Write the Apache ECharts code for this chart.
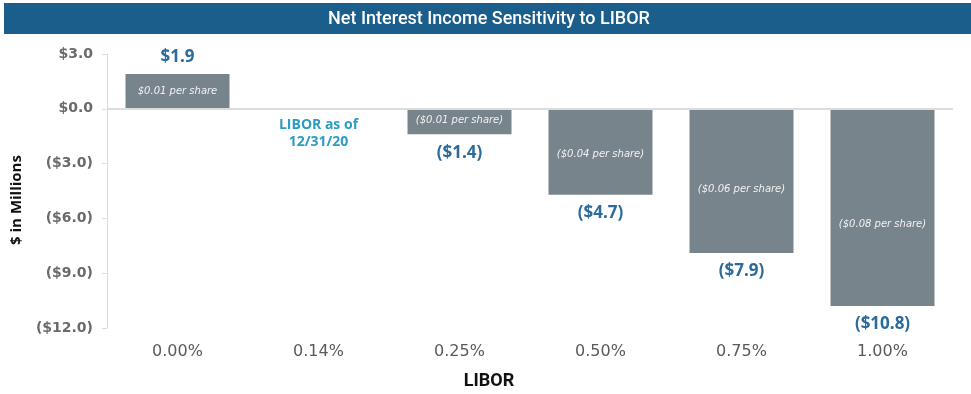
<!DOCTYPE html>
<html>
<head>
<meta charset="utf-8">
<script src="https://cdn.jsdelivr.net/npm/echarts@6/dist/echarts.min.js"></script>
<style>html,body{margin:0;padding:0;background:#fff;}#c{width:971px;height:394px;}</style>
</head>
<body>
<div id="c"></div>
<script>
const categories = ['0.00%', '0.14%', '0.25%', '0.50%', '0.75%', '1.00%'];
const values = [1.9, null, -1.4, -4.7, -7.9, -10.8];
const valueLabels = ['$1.9', '', '($1.4)', '($4.7)', '($7.9)', '($10.8)'];
const perShareLabels = ['$0.01 per share', '', '($0.01 per share)', '($0.04 per share)', '($0.06 per share)', '($0.08 per share)'];
const yTicks = [3, 0, -3, -6, -9, -12];
const annotationText = 'LIBOR as of\n12/31/20';
const titleText = 'Net Interest Income Sensitivity to LIBOR';

// styling/layout (not data)
const perShareOffsets = [18, 0, 13, 47, 82, 117];

function fmtTick(v) {
  if (v === 0) return '$0.0';
  return v > 0 ? '$' + v.toFixed(1) : '($' + Math.abs(v).toFixed(1) + ')';
}

const chart = echarts.init(document.getElementById('c'));

const barData = values.map((v, i) => {
  if (v === null) return '-';
  return {
    value: v,
    label: {
      show: true,
      position: 'insideTop',
      distance: perShareOffsets[i] - 6,
      formatter: perShareLabels[i]
    }
  };
});

const labelData = values.map((v, i) => {
  if (v === null) {
    return {
      value: 0,
      label: {
        show: true, position: 'bottom', distance: 8,
        formatter: annotationText,
        color: '#2d9cc2', fontSize: 14, fontWeight: 'bold', lineHeight: 17,
        fontFamily: 'Open Sans, sans-serif'
      }
    };
  }
  return {
    value: v,
    label: {
      show: true,
      position: v >= 0 ? 'top' : 'bottom',
      distance: v >= 0 ? 8 : 10,
      formatter: valueLabels[i]
    }
  };
});

chart.setOption({
  animation: false,
  backgroundColor: '#ffffff',
  grid: { left: 107, right: 18, top: 54, bottom: 66, containLabel: false },
  xAxis: {
    type: 'category',
    data: categories,
    position: 'bottom',
    axisLine: { show: false, onZero: false },
    axisTick: { show: false },
    axisLabel: { color: '#5a5a5a', fontSize: 16, margin: 16, fontFamily: '"DejaVu Sans", sans-serif' }
  },
  yAxis: {
    type: 'value',
    min: -12, max: 3, interval: 3,
    axisLine: { show: true, lineStyle: { color: '#dcdcdc', width: 1 } },
    axisTick: { show: true, inside: false, length: 5, lineStyle: { color: '#dcdcdc' } },
    splitLine: { show: false },
    axisLabel: {
      color: '#6a6a6a', fontSize: 14, fontWeight: 'bold', margin: 14,
      fontFamily: '"DejaVu Sans", sans-serif',
      formatter: fmtTick
    }
  },
  graphic: [
    { type: 'rect', shape: { x: 4, y: 3, width: 967, height: 31 }, style: { fill: '#1b5e8c' }, z: 10 },
    { type: 'text', x: 489, y: 19, z: 11,
      style: { text: titleText, fill: '#ffffff', font: '500 18px Roboto, sans-serif', align: 'center', verticalAlign: 'middle' } },
    { type: 'text', x: 489, y: 381, z: 11,
      style: { text: 'LIBOR', fill: '#111111', font: 'bold 18px Roboto, sans-serif', align: 'center', verticalAlign: 'middle' } },
    { type: 'text', x: 17, y: 200, rotation: Math.PI / 2, z: 11,
      style: { text: '$ in Millions', fill: '#111111', font: 'bold 15px "Open Sans", sans-serif', align: 'center', verticalAlign: 'middle' } }
  ],
  series: [
    {
      type: 'bar',
      data: barData,
      barWidth: 104,
      barGap: '-100%',
      itemStyle: { color: '#78848b' },
      label: { color: '#f2f2f2', fontSize: 10, fontStyle: 'italic', fontFamily: '"DejaVu Sans", sans-serif' },
      markLine: {
        silent: true, symbol: 'none',
        label: { show: false },
        lineStyle: { color: '#dcdcdc', width: 2, type: 'solid' },
        data: [{ yAxis: 0 }]
      },
      z: 2
    },
    {
      type: 'bar',
      data: labelData,
      barWidth: 104,
      barGap: '-100%',
      itemStyle: { color: 'rgba(0,0,0,0)' },
      label: { color: '#2a6b9c', fontSize: 17, fontWeight: 'bold', fontFamily: 'Open Sans, sans-serif' },
      z: 3
    }
  ]
});
</script>
</body>
</html>
